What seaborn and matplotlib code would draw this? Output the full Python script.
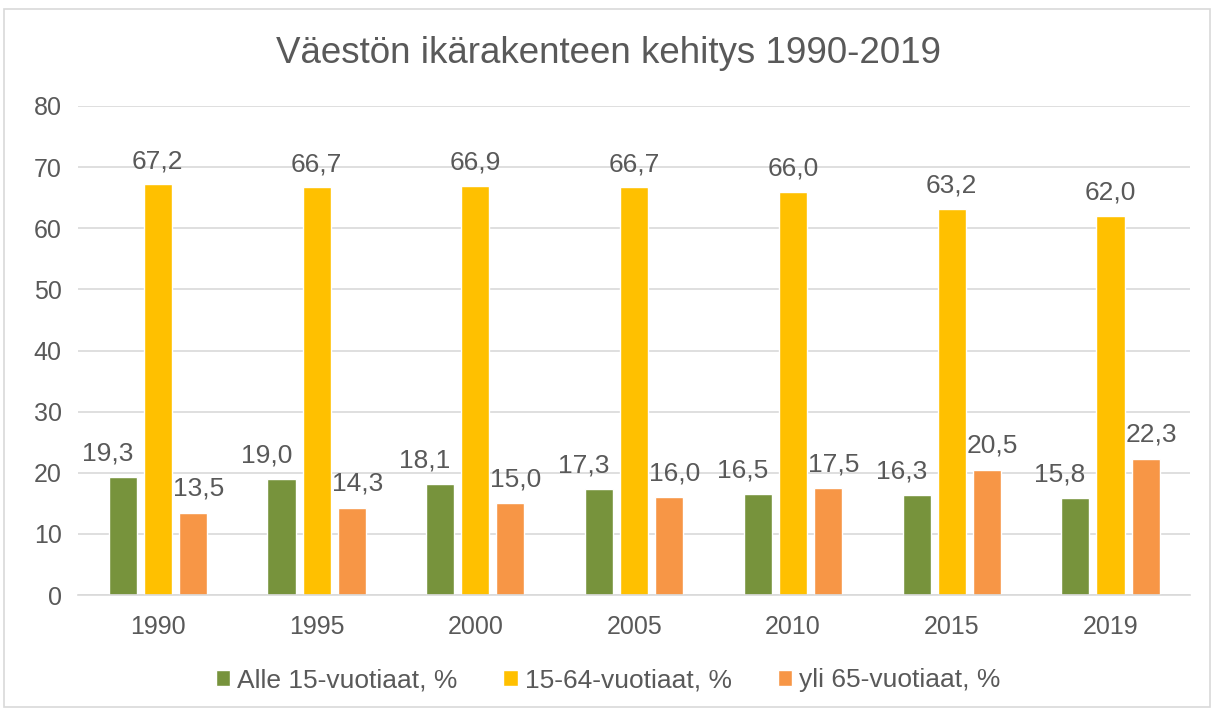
import matplotlib
matplotlib.use("Agg")
import matplotlib.pyplot as plt
import seaborn as sns
import pandas as pd
from matplotlib.patches import Rectangle

years = ["1990", "1995", "2000", "2005", "2010", "2015", "2019"]
series_names = ["Alle 15-vuotiaat, %", "15-64-vuotiaat, %", "yli 65-vuotiaat, %"]
alle15 = [19.3, 19.0, 18.1, 17.3, 16.5, 16.3, 15.8]
v15_64 = [67.2, 66.7, 66.9, 66.7, 66.0, 63.2, 62.0]
yli65 = [13.5, 14.3, 15.0, 16.0, 17.5, 20.5, 22.3]
colors = ["#77933C", "#FFC000", "#F79646"]
title = "Väestön ikärakenteen kehitys 1990-2019"

rows = []
for name, vals in zip(series_names, [alle15, v15_64, yli65]):
    for y, v in zip(years, vals):
        rows.append({"year": y, "series": name, "value": v})
df = pd.DataFrame(rows)

sns.set_theme(style="white")
plt.rcParams["font.family"] = ["Liberation Sans", "DejaVu Sans"]
txt = "#595959"

fig = plt.figure(figsize=(12.16, 7.11), dpi=100)
ax = fig.add_axes([0.0645, 0.163, 0.914, 0.688])
fig.patches.append(Rectangle((0.003, 0.005), 0.992, 0.983, transform=fig.transFigure,
                             fill=False, edgecolor="#D9D9D9", linewidth=1.2))

sns.barplot(data=df, x="year", y="value", hue="series", hue_order=series_names,
            order=years, palette=colors, width=0.663, gap=0.2, ax=ax,
            saturation=1, errorbar=None, legend=True)

ax.set_ylim(0, 80)
ax.set_yticks(range(0, 81, 10))
ax.yaxis.grid(True, color="#D9D9D9", linewidth=1.2)
ax.set_axisbelow(True)
for s in ["top", "right", "left"]:
    ax.spines[s].set_visible(False)
ax.spines["bottom"].set_color("#D9D9D9")
ax.spines["bottom"].set_linewidth(1.2)
ax.tick_params(axis="both", length=0, labelsize=18, labelcolor=txt)
ax.tick_params(axis="x", pad=14)
ax.tick_params(axis="y", pad=12)
ax.set_xlabel("")
ax.set_ylabel("")

# label offsets (points) per series: (dx, dy)
offsets = [(-11, 8.5), (0, 8.0), (4, 8.5)]
for cont, (dx, dy) in zip(ax.containers, offsets):
    for p, v in zip(cont.patches, cont.datavalues):
        ax.annotate(f"{v:.1f}".replace(".", ","),
                    xy=(p.get_x() + p.get_width() / 2, p.get_height()),
                    xytext=(dx, dy), textcoords="offset points",
                    ha="center", va="bottom", fontsize=19, color=txt)

fig.suptitle(title, x=0.5, y=0.95, fontsize=26.5, color=txt)

handles, labels = ax.get_legend_handles_labels()
ax.legend_.remove()
fig.legend(handles, labels, loc="center", bbox_to_anchor=(0.5, 0.043), ncol=3,
           frameon=False, fontsize=19, labelcolor=txt, handlelength=0.55,
           handleheight=0.55, handletextpad=0.25, columnspacing=1.75)

fig.savefig("out.png", dpi=100)
